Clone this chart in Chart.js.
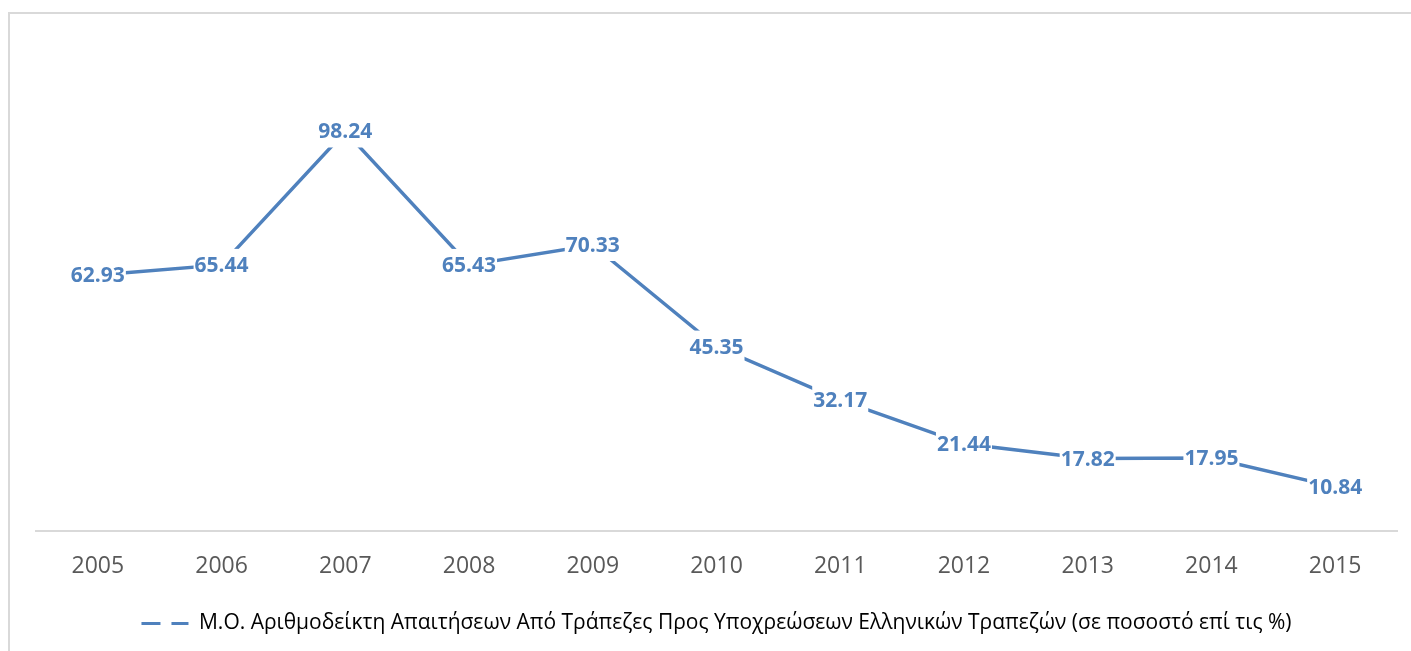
<!DOCTYPE html>
<html>
<head>
<meta charset="utf-8">
<script src="https://cdn.jsdelivr.net/npm/chart.js@4"></script>
<style>
    body { margin: 0; background: #fff; }
    #frame {
        position: absolute; left: 8px; top: 12px;
        width: 1430px; height: 680px;
        border: 2px solid #d9d9d9;
    }
    #wrap { position: absolute; left: 0; top: 0; width: 1411px; height: 651px; }
</style>
</head>
<body>
<div id="frame"></div>
<div id="wrap"><canvas id="ratioChart"></canvas></div>
<script>
// Chart data
const years = ['2005', '2006', '2007', '2008', '2009', '2010', '2011', '2012', '2013', '2014', '2015'];
const ratioValues = [62.93, 65.44, 98.24, 65.43, 70.33, 45.35, 32.17, 21.44, 17.82, 17.95, 10.84];
const seriesName = 'Μ.Ο. Αριθμοδείκτη Απαιτήσεων Από Τράπεζες Προς Υποχρεώσεων Ελληνικών Τραπεζών (σε ποσοστό επί τις %)';

const blue = '#4f81bd';

// Labels centered on points, with white box that cuts the line
const pointLabels = {
    id: 'pointLabels',
    afterDatasetsDraw(chart) {
        const ctx = chart.ctx;
        const meta = chart.getDatasetMeta(0);
        ctx.save();
        ctx.font = 'bold 21px "Open Sans"';
        ctx.textAlign = 'center';
        ctx.textBaseline = 'middle';
        meta.data.forEach((pt, i) => {
            const text = ratioValues[i].toFixed(2);
            const w = ctx.measureText(text).width;
            ctx.fillStyle = '#fff';
            ctx.fillRect(pt.x - w / 2 - 1, pt.y - 16, w + 2, 32);
            ctx.fillStyle = blue;
            ctx.fillText(text, pt.x, pt.y + 1);
        });
        ctx.restore();
    }
};

const ctx = document.getElementById('ratioChart');
new Chart(ctx, {
    type: 'line',
    data: {
        labels: years,
        datasets: [{
            label: seriesName,
            data: ratioValues,
            borderColor: blue,
            backgroundColor: blue,
            borderWidth: 3.5,
            pointRadius: 0,
            tension: 0
        }]
    },
    options: {
        responsive: true,
        maintainAspectRatio: false,
        animation: false,
        layout: {
            padding: { left: 36, right: 14, top: 43, bottom: 7 }
        },
        plugins: {
            tooltip: { enabled: false },
            legend: {
                position: 'bottom',
                labels: {
                    font: { family: '"Open Sans"', size: 21 },
                    color: '#595959',
                    usePointStyle: true,
                    pointStyleWidth: 47,
                    boxWidth: 47,
                    padding: 10,
                    generateLabels(chart) {
                        return [{
                            text: seriesName,
                            fillStyle: blue,
                            strokeStyle: blue,
                            lineWidth: 3,
                            lineDash: [19, 11],
                            pointStyle: 'line',
                            datasetIndex: 0
                        }];
                    }
                }
            }
        },
        scales: {
            x: {
                offset: true,
                grid: { display: false, drawTicks: false, offset: true },
                border: { color: '#d9d9d9', width: 2 },
                ticks: {
                    font: { family: '"Open Sans"', size: 23 },
                    color: '#595959',
                    padding: 22
                },
                afterFit(scale) {
                    scale.height = 72;
                }
            },
            y: {
                display: false,
                min: 0,
                max: 120
            }
        }
    },
    plugins: [pointLabels]
});
</script>
</body>
</html>
